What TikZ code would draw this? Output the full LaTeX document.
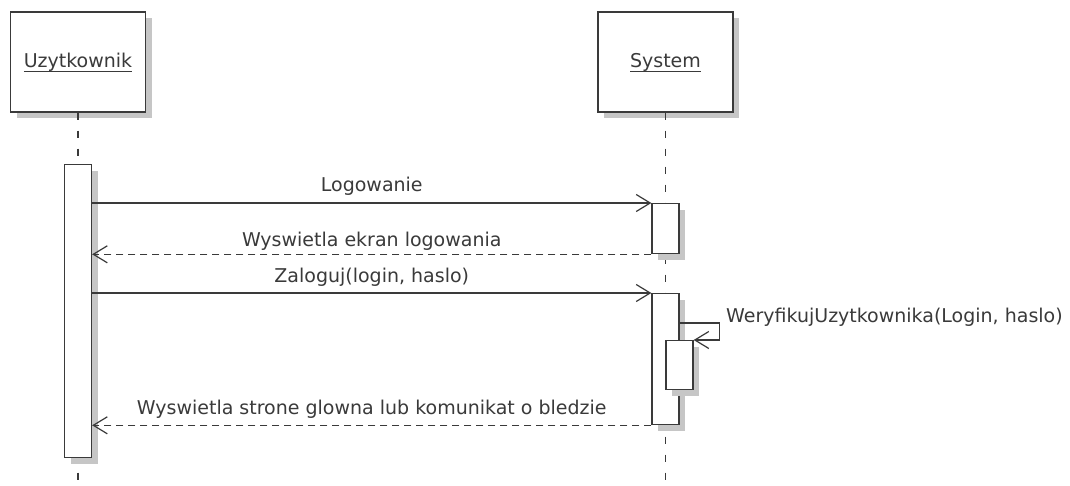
\documentclass[tikz,border=0pt]{standalone}
\usepackage{fontspec}
\setmainfont{DejaVu Sans}
\usetikzlibrary{arrows.meta,shadows,calc}
\definecolor{ink}{HTML}{3A3A3A}
\definecolor{shade}{HTML}{C6C6C6}
% underline set close to the baseline, as in object headers
\newcommand{\objname}[1]{{\setbox0\hbox{#1}\rlap{\raisebox{-4.5pt}{\rule{\wd0}{1.2pt}}}\box0}}
\begin{document}
\begin{tikzpicture}[x=1pt,y=-1pt,
  font=\fontsize{19}{22}\selectfont,
  shadowed/.style={drop shadow={shadow xshift=6pt,shadow yshift=-6pt,fill=shade,opacity=1}},
  objbox/.style={draw=ink,fill=white,line width=1.3pt,minimum width=135pt,minimum height=100pt,inner sep=0pt,shadowed},
  actbar/.style={draw=ink,fill=white,line width=1.3pt,minimum width=27pt,inner sep=0pt,anchor=north,shadowed},
  lifeline/.style={draw=ink,line width=1.3pt,dash pattern=on 7pt off 11pt},
  call/.style={draw=ink,line width=1.2pt,-{Straight Barb[length=14pt,width=17pt,line width=1.2pt]}},
  reply/.style={call,dash pattern=on 7pt off 5pt},
  lbl/.style={text=ink,anchor=base,inner sep=0pt}
]
\useasboundingbox (0,0) rectangle (1070,486);
\fill[white] (0,0) rectangle (1070,486);

% lifelines
\coordinate (endU) at (78,486);
\coordinate (endS) at (665.5,486);
\node[objbox] (hdrU) at (78,62) {};
\node[objbox] (hdrS) at (665.5,62) {};
\draw[lifeline] (hdrU.south) -- (endU);
\draw[lifeline] (hdrS.south) -- (endS);
\node[lbl] (nameU) at (78,68) {\objname{Uzytkownik}};
\node[lbl] (nameS) at (665.5,68) {\objname{System}};

% activations
\node[actbar,minimum height=293pt] (act1) at (78,164) {};
\node[actbar,minimum height=50pt] (act2) at (665.5,203) {};
\node[actbar,minimum height=131pt] (act3) at (665.5,293) {};
\node[actbar,minimum height=49pt] (act4) at (679.5,340) {};

% messages
\draw[call] (act1.east |- act2.north) -- (act2.north west)
  node[lbl,midway,yshift=11pt] {Logowanie};
\draw[reply] (act2.south west) -- (act1.east |- act2.south)
  node[lbl,midway,yshift=8pt] {Wyswietla ekran logowania};
\draw[call] (act1.east |- act3.north) -- (act3.north west)
  node[lbl,midway,yshift=11pt] {Zaloguj(login, haslo)};

% self call
\path (act3.east |- act4.north) ++(0,-17) coordinate (selfout);
\draw[call] (selfout) -- ++(40,0) |- (act4.north east);
\node[lbl,anchor=base west] (selflbl) at (726,322) {WeryfikujUzytkownika(Login, haslo)};

\draw[reply] (act3.south west) -- (act1.east |- act3.south)
  node[lbl,midway,yshift=11pt] {Wyswietla strone glowna lub komunikat o bledzie};
\end{tikzpicture}
\end{document}
